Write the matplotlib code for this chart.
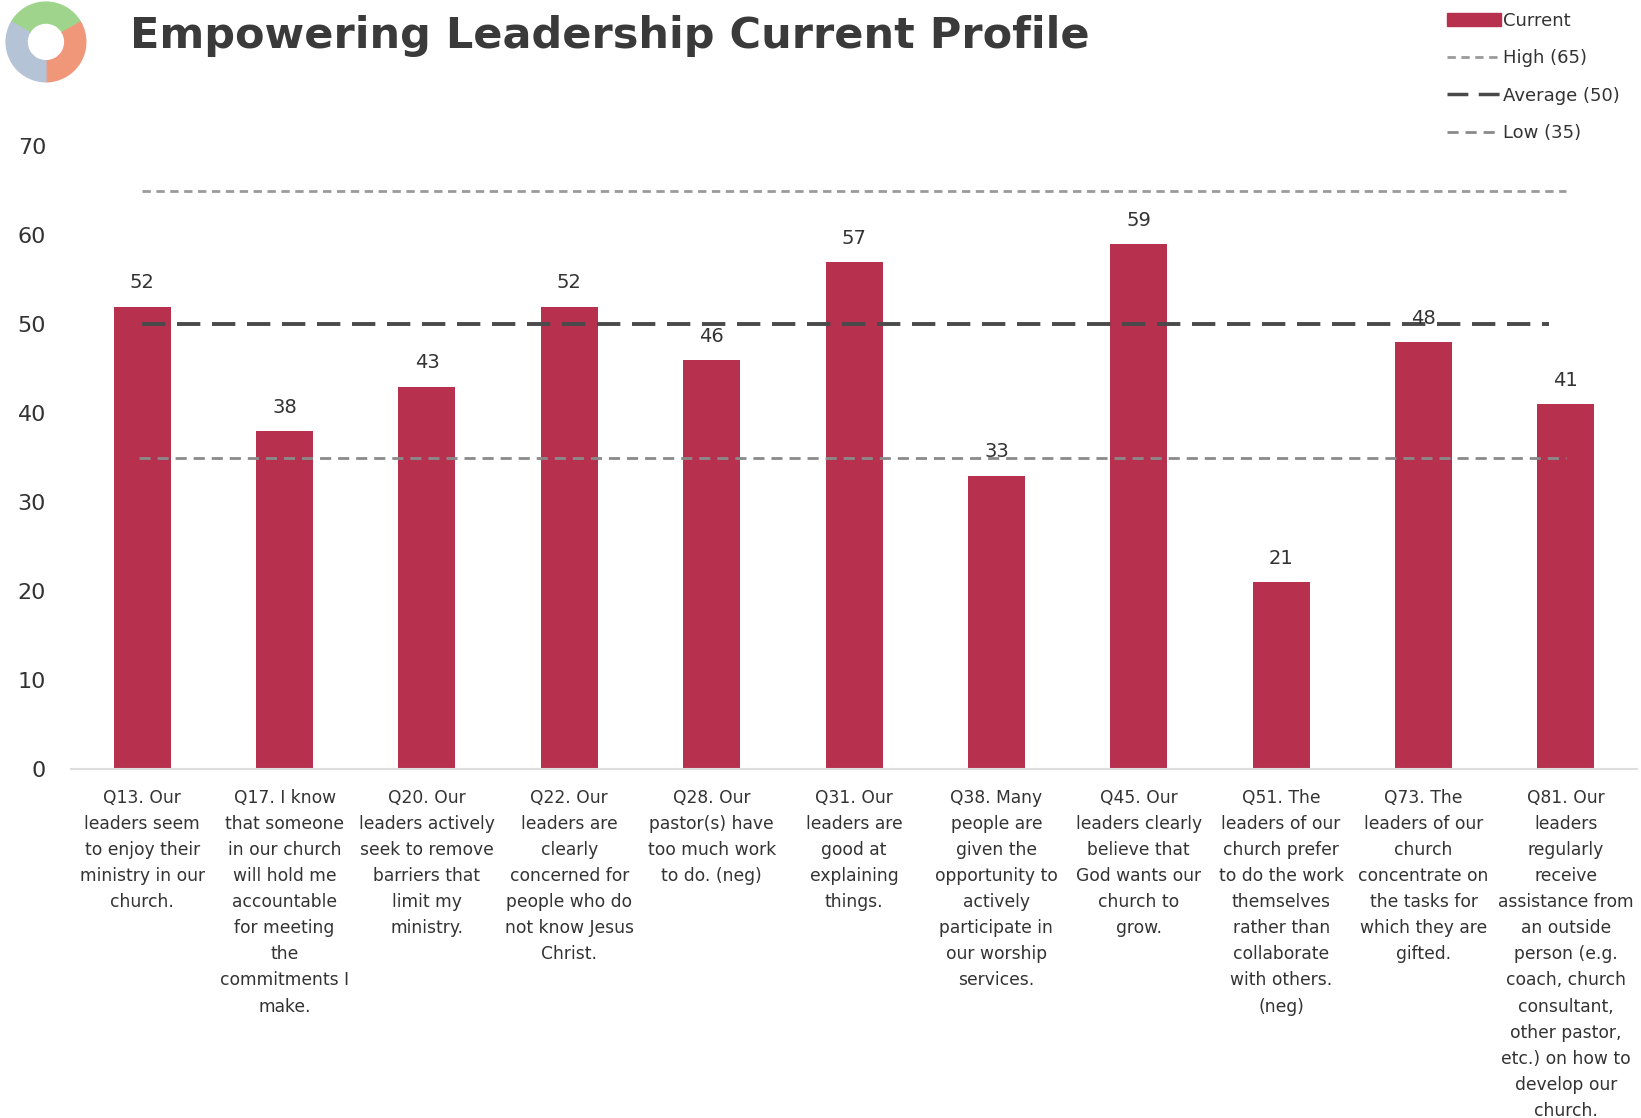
import matplotlib
matplotlib.use("Agg")
import matplotlib.pyplot as plt
from matplotlib.patches import Wedge, Patch
from matplotlib.lines import Line2D

questions = [
    "Q13. Our\nleaders seem\nto enjoy their\nministry in our\nchurch.",
    "Q17. I know\nthat someone\nin our church\nwill hold me\naccountable\nfor meeting\nthe\ncommitments I\nmake.",
    "Q20. Our\nleaders actively\nseek to remove\nbarriers that\nlimit my\nministry.",
    "Q22. Our\nleaders are\nclearly\nconcerned for\npeople who do\nnot know Jesus\nChrist.",
    "Q28. Our\npastor(s) have\ntoo much work\nto do. (neg)",
    "Q31. Our\nleaders are\ngood at\nexplaining\nthings.",
    "Q38. Many\npeople are\ngiven the\nopportunity to\nactively\nparticipate in\nour worship\nservices.",
    "Q45. Our\nleaders clearly\nbelieve that\nGod wants our\nchurch to\ngrow.",
    "Q51. The\nleaders of our\nchurch prefer\nto do the work\nthemselves\nrather than\ncollaborate\nwith others.\n(neg)",
    "Q73. The\nleaders of our\nchurch\nconcentrate on\nthe tasks for\nwhich they are\ngifted.",
    "Q81. Our\nleaders\nregularly\nreceive\nassistance from\nan outside\nperson (e.g.\ncoach, church\nconsultant,\nother pastor,\netc.) on how to\ndevelop our\nchurch.",
]
current = [52, 38, 43, 52, 46, 57, 33, 59, 21, 48, 41]
high, average, low = 65, 50, 35

bar_color = "#b7304e"
text_color = "#333333"

fig = plt.figure(figsize=(16.41, 11.18), dpi=100)
ax = fig.add_axes([0.0433, 0.312, 0.9543, 0.557])

x = list(range(len(current)))
ax.bar(x, current, width=0.4, color=bar_color, zorder=2)
for xi, v in zip(x, current):
    ax.text(xi, v + 1.6, str(v), ha="center", va="bottom", fontsize=14,
            color=text_color, zorder=4)

ax.plot([x[0], x[-1]], [high, high], color="#9a9a9a", lw=2,
        dashes=(3, 2), zorder=3)
ax.plot([x[0], x[-1] - 0.12], [average, average], color="#4a4a4a", lw=2.8,
        dashes=(6, 3), zorder=3)
ax.plot([x[0] - 0.02, x[-1]], [low, low], color="#8a8a8a", lw=2,
        dashes=(4, 2.5), zorder=3)

ax.set_xlim(-0.5, 10.5)
ax.set_ylim(0, 70)
ax.set_yticks(range(0, 71, 10))
ax.tick_params(axis="y", length=0, labelsize=16, labelcolor=text_color, pad=18)
ax.set_xticks(x)
ax.set_xticklabels(questions, fontsize=12.3, color=text_color,
                   linespacing=1.58)
ax.tick_params(axis="x", length=0, pad=14)
for s in ["top", "right", "left"]:
    ax.spines[s].set_visible(False)
ax.spines["bottom"].set_color("#dddddd")
ax.spines["bottom"].set_linewidth(1.5)

fig.text(0.079, 0.968, "Empowering Leadership Current Profile", fontsize=31,
         fontweight="bold", color="#3a3a3a", va="center", ha="left")

# small round logo in the top-left corner
logo = fig.add_axes([0.0, 0.925, 0.056, 0.075])
logo.set_xlim(-1, 1)
logo.set_ylim(-1, 1)
logo.set_aspect("equal")
logo.axis("off")
logo.add_patch(Wedge((0, 0), 0.95, 30, 150, width=0.5, color="#9fd48c"))
logo.add_patch(Wedge((0, 0), 0.95, -90, 30, width=0.5, color="#f0977a"))
logo.add_patch(Wedge((0, 0), 0.95, 150, 270, width=0.5, color="#b4c3d6"))

handles = [
    Patch(color=bar_color, label="Current"),
    Line2D([], [], color="#9a9a9a", lw=2, dashes=(3, 2), label="High (65)"),
    Line2D([], [], color="#4a4a4a", lw=2.5, dashes=(6, 3), label="Average (50)"),
    Line2D([], [], color="#8a8a8a", lw=2, dashes=(4, 2.5), label="Low (35)"),
]
fig.legend(handles=handles, loc="upper right", bbox_to_anchor=(0.997, 1.004),
           frameon=False, labelcolor=text_color,
           handlelength=3.0, handletextpad=0.1, labelspacing=1.08,
           prop={"size": 13})

fig.savefig("out.png", dpi=100, facecolor="white")
